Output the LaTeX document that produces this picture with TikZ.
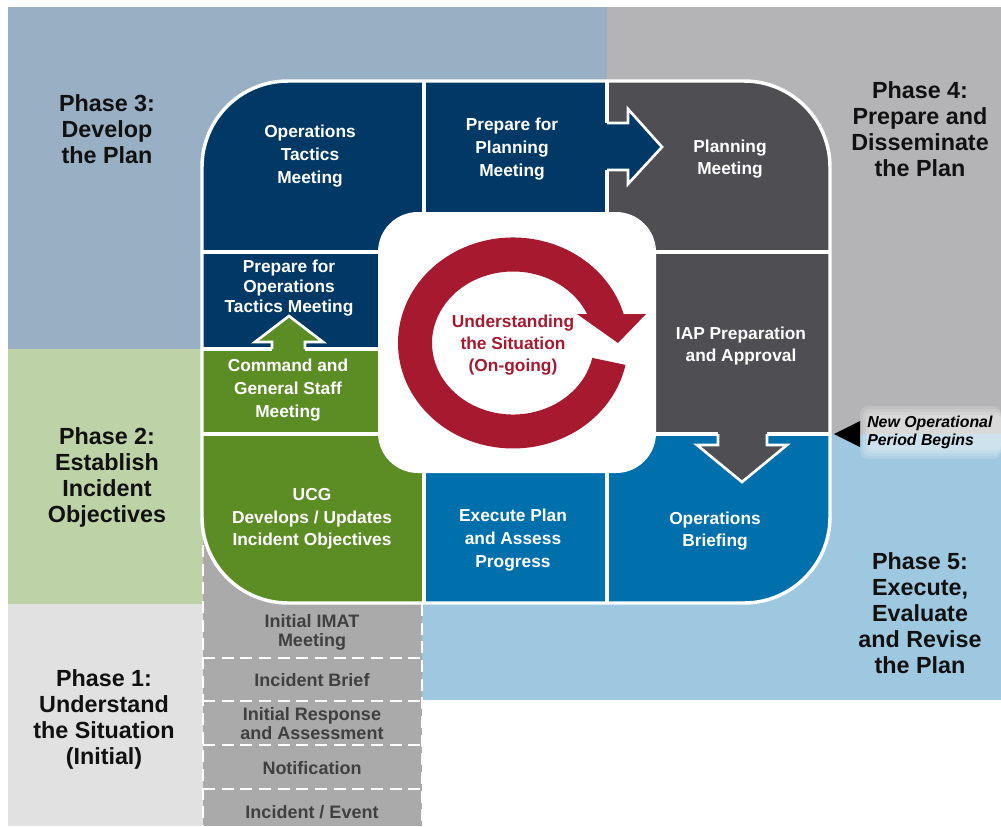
\documentclass[tikz,border=0pt]{standalone}
\usepackage{fontspec}
\setmainfont{Liberation Sans}
\definecolor{navy}{RGB}{0,57,102}
\definecolor{dgray}{RGB}{78,78,83}
\definecolor{cgreen}{RGB}{92,140,36}
\definecolor{cblue}{RGB}{0,112,173}
\definecolor{stackgray}{RGB}{170,170,170}
\definecolor{bgthree}{RGB}{152,175,196}
\definecolor{bgfour}{RGB}{180,180,182}
\definecolor{bgtwo}{RGB}{189,211,167}
\definecolor{bgone}{RGB}{225,225,225}
\definecolor{bgfive}{RGB}{158,199,224}
\definecolor{cred}{RGB}{166,25,46}
\definecolor{stacktext}{RGB}{64,64,64}
\definecolor{phasetextc}{RGB}{17,17,17}
\tikzset{
  celltext/.style={text=white, font=\fontsize{13}{17}\selectfont\bfseries, align=center, inner sep=0pt},
  phasetext/.style={text=phasetextc, font=\fontsize{17.5}{19.5}\selectfont\bfseries, align=center, inner sep=0pt},
  stacktxt/.style={text=stacktext, font=\fontsize{13.5}{14.3}\selectfont\bfseries, align=center, inner sep=0pt},
  sepline/.style={white, line width=2.4pt},
  arrowedge/.style={white, line width=2pt, line join=miter},
  stackdash/.style={white, line width=2pt, dash pattern=on 9pt off 5pt},
  glow/.style={white, opacity=0.16}
}
\begin{document}
\begin{tikzpicture}[x=0.75pt,y=-0.75pt]
\useasboundingbox (0,0) rectangle (1001,826);
% backgrounds
\fill[white] (0,0) rectangle (1001,826);
\fill[bgthree] (8,7) rectangle (607,349);
\fill[bgfour] (607,7) rectangle (1001,434);
\fill[bgtwo] (8,349) rectangle (203,604);
\fill[bgone] (8,604) rectangle (203,826);
\fill[bgfive] (422,434) rectangle (1001,700);
% gray stack
\fill[stackgray] (203,520) rectangle (422,826);
\draw[stackdash] (203,545) -- (203,826);
\draw[stackdash] (422,604) -- (422,826);
\foreach \yy in {658,701,745,789} \draw[stackdash] (203,\yy) -- (422,\yy);
% panel cells
\begin{scope}
\clip[rounded corners=64.5pt] (202,81) rectangle (830,603);
\fill[navy] (202,81) rectangle (424,252);
\fill[navy] (424,81) rectangle (607,212);
\fill[dgray] (607,81) rectangle (830,252);
\fill[navy] (202,252) rectangle (400,349);
\fill[cgreen] (202,349) rectangle (400,434);
\fill[dgray] (640,252) rectangle (830,434);
\fill[cgreen] (202,434) rectangle (424,603);
\fill[cblue] (424,470) rectangle (607,603);
\fill[cblue] (607,434) rectangle (830,603);
% separators
\draw[sepline] (424,81) -- (424,212);
\draw[sepline] (424,470) -- (424,603);
\draw[sepline] (607,81) -- (607,123);
\draw[sepline] (607,170) -- (607,212);
\draw[sepline] (607,470) -- (607,603);
\draw[sepline] (202,252) -- (400,252);
\draw[sepline] (640,252) -- (830,252);
\draw[sepline] (202,349) -- (272,349);
\draw[sepline] (305,349) -- (400,349);
\draw[sepline] (202,434) -- (400,434);
\draw[sepline] (640,434) -- (718,434);
\draw[sepline] (767,434) -- (830,434);
\end{scope}
\draw[white, line width=2.6pt, rounded corners=64.5pt] (202,81) rectangle (830,603);
% centre box
\fill[white, rounded corners=30pt] (378,212) rectangle (656,473);
% flow arrows
\fill[navy] (604,123) -- (628,123) -- (628,109) -- (662,147) -- (628,184) -- (628,170) -- (604,170) -- cycle;
\draw[arrowedge] (607,123) -- (628,123) -- (628,109) -- (662,147) -- (628,184) -- (628,170) -- (607,170);
\fill[dgray] (718,430) -- (718,445) -- (697,445) -- (742,482) -- (787,445) -- (767,445) -- (767,430) -- cycle;
\draw[arrowedge] (718,434) -- (718,445) -- (697,445) -- (742,482) -- (787,445) -- (767,445) -- (767,434);
\fill[cgreen] (272,353) -- (272,342) -- (255,342) -- (289,316) -- (323,342) -- (305,342) -- (305,353) -- cycle;
\draw[arrowedge] (272,349) -- (272,342) -- (255,342) -- (289,316) -- (323,342) -- (305,342) -- (305,349);
% circular arrow
\fill[cred] (625.5,364.9) arc[start angle=12, end angle=344, x radius=115, y radius=105.5] -- (590.9,323.3) arc[start angle=344, end angle=12, x radius=81, y radius=71.5] -- cycle;
\fill[cred] (577,314) -- (646,314) -- (618,343) -- cycle;
% new operational period marker (soft glow)
\fill[glow, rounded corners=6pt] (860,406) rectangle (1001,459);
\fill[glow, rounded corners=5pt] (863,409) rectangle (1001,456);
\fill[glow, rounded corners=4pt] (866,412) rectangle (1001,453);
\fill[glow, rounded corners=3pt] (869,415) rectangle (1001,450);
\fill[black] (834,434) -- (860,421) -- (860,447) -- cycle;
\node[anchor=west, align=left, inner sep=0pt, text=black, font=\fontsize{11.9}{13.5}\selectfont\bfseries\itshape] (newop) at (867,432) {New Operational\\Period Begins};
% cell texts
\node[celltext] (opstac) at (310,156) {Operations\\Tactics\\Meeting};
\node[celltext] (prepplan) at (512,149) {Prepare for\\Planning\\Meeting};
\node[celltext] (planmeet) at (730,159) {Planning\\Meeting};
\node[celltext, font=\fontsize{13}{15}\selectfont\bfseries] (prepops) at (289,288) {Prepare for\\Operations\\Tactics Meeting};
\node[celltext] (cgs) at (288,390) {Command and\\General Staff\\Meeting};
\node[celltext] (iap) at (741,346) {IAP Preparation\\and Approval};
\node[celltext] (ucg) at (312,519) {UCG\\Develops / Updates\\Incident Objectives};
\node[celltext] (exec) at (513,540) {Execute Plan\\and Assess\\Progress};
\node[celltext] (opsbrief) at (715,531) {Operations\\Briefing};
\node[celltext, text=cred, font=\fontsize{13}{16.5}\selectfont\bfseries] (understand) at (513,345) {Understanding\\the Situation\\(On-going)};
% stack texts
\node[stacktxt] (imat) at (312,632) {Initial IMAT\\Meeting};
\node[stacktxt] (brief) at (312,680) {Incident Brief};
\node[stacktxt] (initresp) at (312,724) {Initial Response\\and Assessment};
\node[stacktxt] (notif) at (312,768) {Notification};
\node[stacktxt] (event) at (312,812) {Incident / Event};
% phase labels
\node[phasetext] (p3) at (107,129) {Phase 3:\\Develop\\the Plan};
\node[phasetext] (p4) at (920,129) {Phase 4:\\Prepare and\\Disseminate\\the Plan};
\node[phasetext] (p2) at (107,477) {Phase 2:\\Establish\\Incident\\Objectives};
\node[phasetext] (p1) at (104,719) {Phase 1:\\Understand\\the Situation\\(Initial)};
\node[phasetext] (p5) at (920,613) {Phase 5:\\Execute,\\Evaluate\\and Revise\\the Plan};
\end{tikzpicture}
\end{document}
